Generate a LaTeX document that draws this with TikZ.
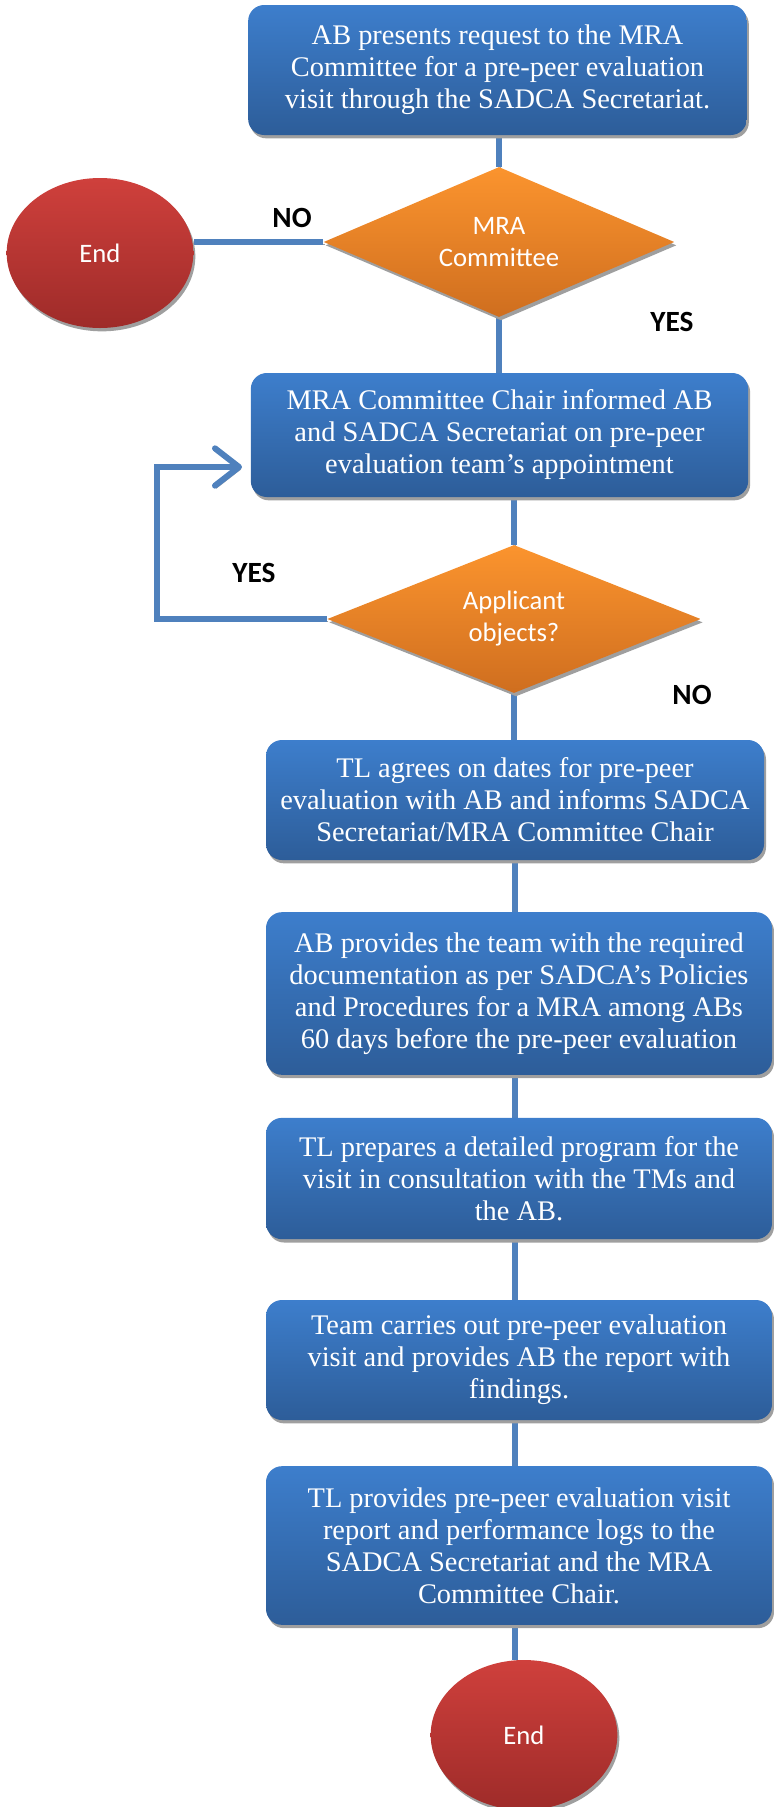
\documentclass[tikz,border=0pt]{standalone}
\usepackage{fontspec}
\setmainfont{Liberation Serif}
\newfontfamily\calibri{Carlito}
\usetikzlibrary{shapes.geometric,shadows,arrows.meta,backgrounds}

\definecolor{boxtop}{RGB}{61,126,204}
\definecolor{boxbot}{RGB}{45,93,153}
\definecolor{dectop}{RGB}{251,148,46}
\definecolor{decbot}{RGB}{207,110,31}
\definecolor{endtop}{RGB}{207,64,60}
\definecolor{endbot}{RGB}{158,43,41}
\definecolor{linkblue}{RGB}{79,129,189}

\tikzset{
  softshadow/.style={drop shadow={shadow xshift=1.5pt, shadow yshift=-2.5pt, fill=gray!75, opacity=1}},
  stepbox/.style={rectangle, rounded corners=12pt, softshadow, top color=boxtop, bottom color=boxbot,
    text=white, align=center, inner sep=0pt, font=\fontsize{21.3}{24}\selectfont},
  decision/.style={diamond, aspect=2.3, softshadow, top color=dectop, bottom color=decbot,
    text=white, align=center, inner sep=0pt, font=\calibri\fontsize{20}{24}\selectfont},
  stop/.style={ellipse, softshadow, top color=endtop, bottom color=endbot, text=white,
    minimum width=140pt, minimum height=112.5pt, inner sep=0pt, font=\calibri\fontsize{20}{24}\selectfont},
  link/.style={draw=linkblue, line width=4.5pt, preaction={draw=gray!75, transform canvas={shift={(1pt,-2pt)}}}},
  answer/.style={font=\calibri\bfseries\fontsize{22}{24}\selectfont}
}

\begin{document}
\begin{tikzpicture}[x=0.75pt, y=-0.75pt]
\useasboundingbox (0,0) rectangle (774,1807);

% Steps and decisions
\node[stepbox, minimum width=374pt, minimum height=97.5pt] (req) at (497.5,70)
  {AB presents request to the MRA\\Committee for a pre-peer evaluation\\visit through the SADCA Secretariat.};
\node[decision, minimum width=263pt, minimum height=112.5pt] (mracom) at (499,242) {MRA\\Committee};
\node[stop] (endno) at (100,253) {End};
\node[stepbox, minimum width=373pt, minimum height=93pt] (inform) at (499.5,435)
  {MRA Committee Chair informed AB\\and SADCA Secretariat on pre-peer\\evaluation team’s appointment};
\node[decision, minimum width=280pt, minimum height=111pt] (objects) at (514,619) {Applicant\\objects?};
\node[stepbox, minimum width=373.5pt, minimum height=90pt] (dates) at (515,800)
  {TL agrees on dates for pre-peer\\evaluation with AB and informs SADCA\\Secretariat/MRA Committee Chair};
\node[stepbox, minimum width=379.5pt, minimum height=122pt] (docs) at (519,993.5)
  {AB provides the team with the required\\documentation as per SADCA’s Policies\\and Procedures for a MRA among ABs\\60 days before the pre-peer evaluation};
\node[stepbox, minimum width=379.5pt, minimum height=91pt] (program) at (519,1178.5)
  {TL prepares a detailed program for the\\visit in consultation with the TMs and\\the AB.};
\node[stepbox, minimum width=379.5pt, minimum height=90pt] (visit) at (519,1360)
  {Team carries out pre-peer evaluation\\visit and provides AB the report with\\findings.};
\node[stepbox, minimum width=379.5pt, minimum height=119pt] (report) at (519,1545.5)
  {TL provides pre-peer evaluation visit\\report and performance logs to the\\SADCA Secretariat and the MRA\\Committee Chair.};
\node[stop] (endfin) at (524,1735) {End};

% Answers
\node[answer] (noA) at (292,218) {NO};
\node[answer] (yesA) at (672,322) {YES};
\node[answer] (yesB) at (254,573) {YES};
\node[answer] (noB) at (692,695) {NO};

% Connectors
\coordinate (loopturn) at (157,467);
\coordinate (looptip) at (242,467);
\begin{scope}[on background layer]
\draw[link] (mracom.north |- req.south) -- (mracom.north);
\draw[link] (mracom.west) -- (mracom.west -| endno.east);
\draw[link] (mracom.south) -- (mracom.south |- inform.north);
\draw[link] (objects.north |- inform.south) -- (objects.north);
\draw[link] (objects.south) -- (objects.south |- dates.north);
\draw[link, -{Straight Barb[length=18pt, width=28pt, round]}] (objects.west) -| (loopturn) -- (looptip);
\foreach \a/\b in {dates/docs, docs/program, program/visit, visit/report, report/endfin}
    \draw[link] (\a.south -| dates.south) -- (\b.north -| dates.south);
\end{scope}
\end{tikzpicture}
\end{document}
